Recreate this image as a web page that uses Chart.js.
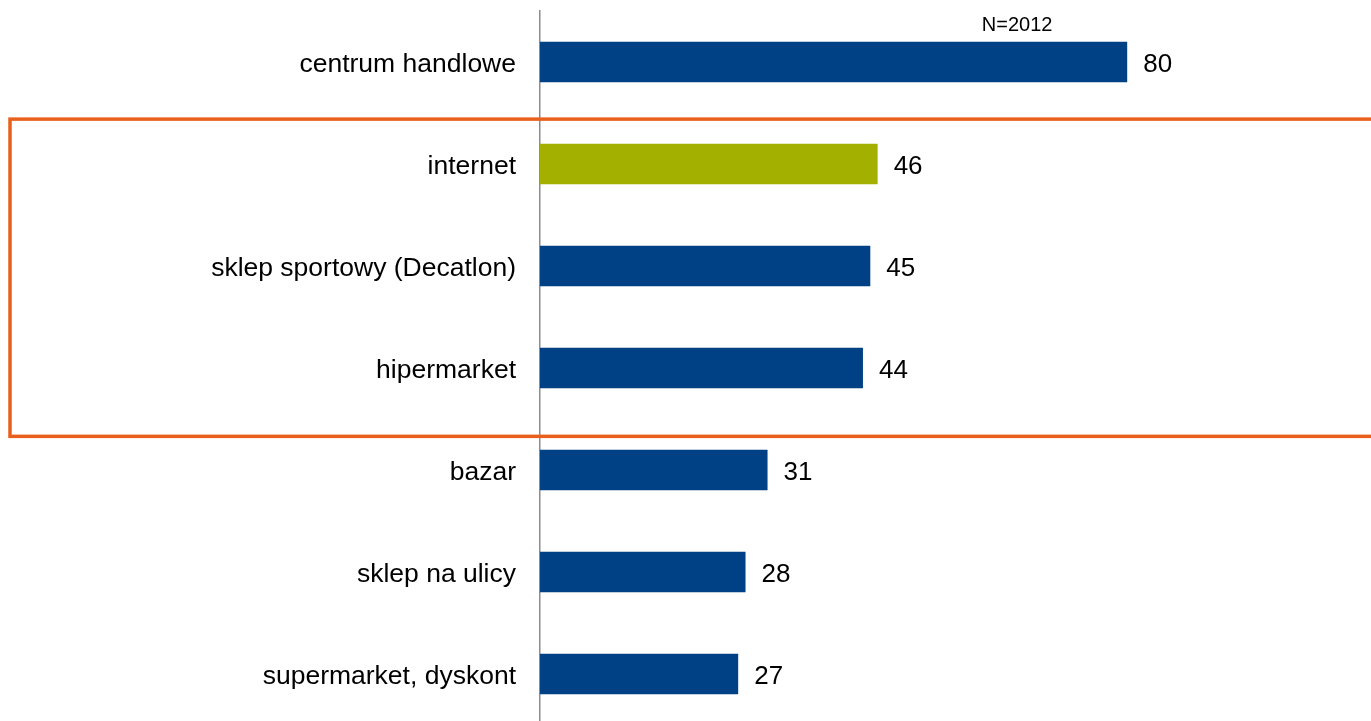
<!DOCTYPE html>
<html>
<head>
<meta charset="utf-8">
<script src="https://cdn.jsdelivr.net/npm/chart.js@4"></script>
<style>
  html, body { margin: 0; padding: 0; background: #fff; overflow: hidden; }
  canvas { display: block; }
</style>
</head>
<body>
<canvas id="chart" width="1371" height="730"></canvas>
<script>
// data
const labels = [
    "centrum handlowe",
    "internet",
    "sklep sportowy (Decatlon)",
    "hipermarket",
    "bazar",
    "sklep na ulicy",
    "supermarket, dyskont",
];
const values = [80, 46, 45, 44, 31, 28, 27];
const highlight = "internet";
const sampleNote = "N=2012";

const BLUE = "#004185";
const GREEN = "#A3B000";
const ORANGE = "#E8601C";
const FONT = "'Liberation Sans', Arial, sans-serif";

// numbers right of the bars
const valueLabels = {
    id: "valueLabels",
    afterDatasetsDraw(chart) {
        const { ctx } = chart;
        const meta = chart.getDatasetMeta(0);
        ctx.save();
        ctx.font = "26px " + FONT;
        ctx.fillStyle = "#000";
        ctx.textAlign = "left";
        ctx.textBaseline = "middle";
        meta.data.forEach((bar, i) => {
            ctx.fillText(String(values[i]), bar.x + 16, bar.y + 2.5);
        });
        ctx.restore();
    },
};

// orange frame round the middle group + sample size note
const extras = {
    id: "extras",
    afterDraw(chart) {
        const { ctx } = chart;
        const y = chart.scales.y;
        const x = chart.scales.x;
        const band = y.getPixelForValue(1) - y.getPixelForValue(0);
        const top = y.getPixelForValue(1) - band * 0.44;
        const bottom = y.getPixelForValue(4) - band * 0.33;
        ctx.save();
        ctx.strokeStyle = ORANGE;
        ctx.lineWidth = 3.5;
        ctx.strokeRect(10, top, chart.width + 20, bottom - top);

        ctx.font = "20px " + FONT;
        ctx.fillStyle = "#000";
        ctx.textAlign = "center";
        ctx.textBaseline = "middle";
        ctx.fillText(sampleNote, x.getPixelForValue(65), 25);
        ctx.restore();
    },
};

new Chart(document.getElementById("chart"), {
    type: "bar",
    data: {
        labels: labels,
        datasets: [
            {
                data: values,
                backgroundColor: labels.map((l) => (l === highlight ? GREEN : BLUE)),
                barPercentage: 0.395,
                categoryPercentage: 1,
            },
        ],
    },
    options: {
        indexAxis: "y",
        responsive: false,
        animation: false,
        layout: {
            padding: { top: 11, right: 97, bottom: 5, left: 0 },
        },
        scales: {
            x: {
                display: false,
                min: 0,
                max: 100,
            },
            y: {
                afterFit: (scale) => {
                    scale.width = 540;
                    scale.paddingTop = 0;
                    scale.paddingBottom = 0;
                },
                grid: { display: false, drawTicks: false },
                border: { display: true, color: "#8c8c8c", width: 1.5 },
                ticks: {
                    color: "#000",
                    padding: 24,
                    labelOffset: 3,
                    font: { family: FONT, size: 26.5 },
                },
            },
        },
        plugins: {
            legend: { display: false },
            tooltip: { enabled: false },
        },
    },
    plugins: [valueLabels, extras],
});
</script>
</body>
</html>
